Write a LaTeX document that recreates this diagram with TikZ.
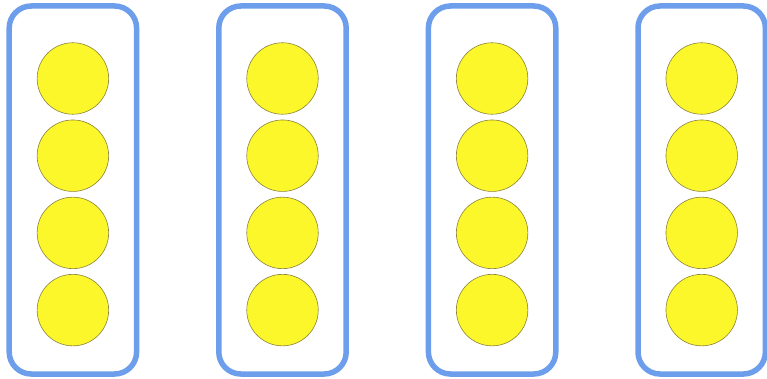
\documentclass[tikz,border=0pt]{standalone}
\usepackage{tikz}
\definecolor{boxblue}{RGB}{109,158,235}
\definecolor{ballyellow}{RGB}{252,247,42}
\definecolor{ballline}{RGB}{140,130,60}
\begin{document}
\begin{tikzpicture}[x=1pt,y=-1pt,
  column/.style={draw=boxblue, line width=5.5pt, rounded corners=22pt},
  ball/.style={circle, draw=ballline, line width=0.6pt, fill=ballyellow, minimum size=71.5pt, inner sep=0pt}]
\useasboundingbox (0,0) rectangle (767,379);
\foreach \i in {0,1,2,3}{
  \pgfmathsetmacro{\cx}{72.9+209.6*\i}
  \draw[column] (\cx-63.7,6) rectangle (\cx+63.7,374) coordinate (col\i);
  \foreach \j in {0,1,2,3}{
    \node[ball] (b\i\j) at (\cx,78.5+77.2*\j) {};
  }
}
\end{tikzpicture}
\end{document}
